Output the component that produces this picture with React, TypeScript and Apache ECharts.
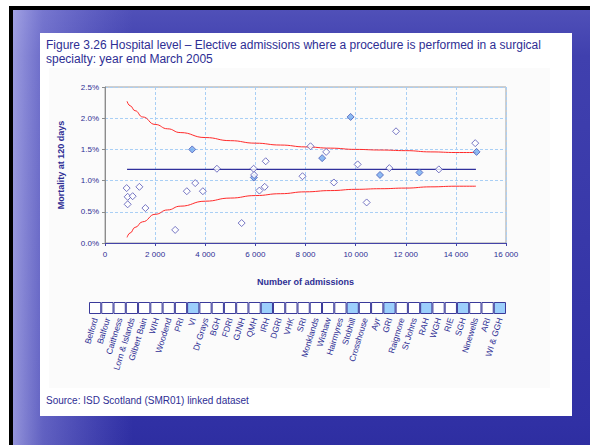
import { useEffect, useRef } from "react";
import * as echarts from "echarts";

// Hospitals, ordered by number of admissions
const hospitals = [
  "Belford", "Balfour", "Caithness", "Lorn & Islands", "Gilbert Bain", "WIH", "Woodend", "PRI",
  "VI", "Dr Grays", "BGH", "FDRI", "GJNH", "QMH", "IRH", "DGRI", "VHK", "SRI", "Monklands",
  "Wishaw", "Hairmyres", "Stobhill", "Crosshouse", "Ayr", "GRI", "Raigmore", "St Johns", "RAH",
  "WGH", "RIE", "SGH", "Ninewells", "ARI", "WI & GGH",
];
const admissions = [
  864, 904, 904, 1104, 1372, 1612, 2800, 3264, 3480, 3600, 3904, 4465, 5452, 5930, 5940, 5950,
  6160, 6372, 6412, 7880, 8200, 8665, 8825, 9132, 9800, 10080, 10440, 10972, 11345, 11612, 12545,
  13320, 14772, 14825,
];
const mortality = [
  0.88, 0.74, 0.62, 0.75, 0.9, 0.56, 0.21, 0.83, 1.5, 0.96, 0.83, 1.19, 0.32, 1.19, 1.05, 1.09,
  0.84, 0.9, 1.31, 1.07, 1.55, 1.36, 1.46, 0.97, 2.02, 1.26, 0.65, 1.09, 1.2, 1.79, 1.13, 1.18,
  1.6, 1.46,
];
const highlighted = [
  0, 0, 0, 0, 0, 0, 0, 0, 1, 0, 0, 0, 0, 0, 1, 0, 0, 0, 0, 0, 0, 1, 0, 0, 1, 0, 0, 1, 0, 0, 1, 0,
  0, 1,
];

// Control limits
const limitAdmissions = [880, 1000, 1200, 1500, 2000, 2500, 3000, 4000, 5000, 6000, 7000, 8000, 9000, 10000, 11000, 12000, 13000, 14000, 14800];
const upperLimit = [2.27, 2.2, 2.12, 2.02, 1.9, 1.83, 1.77, 1.69, 1.64, 1.6, 1.57, 1.54, 1.52, 1.5, 1.49, 1.48, 1.46, 1.45, 1.45];
const lowerLimit = [0.09, 0.16, 0.25, 0.34, 0.46, 0.53, 0.59, 0.67, 0.72, 0.76, 0.79, 0.82, 0.84, 0.86, 0.87, 0.88, 0.9, 0.91, 0.91];
const meanRate = 1.18;
const meanRange = [880, 14800];

const NAVY = "#2e2e94";
const FONT = "'Liberation Sans', Arial, sans-serif";

export default function App() {
  const ref = useRef<HTMLDivElement>(null);
  useEffect(() => {
    if (!ref.current) return;
    const chart = echarts.init(ref.current, null, { renderer: "svg" });
    const dashed = { show: true, lineStyle: { color: "#a9cff5", type: [3, 2] as any, width: 1 } };
    const option: any = {
      animation: false,
      backgroundColor: "transparent",
      textStyle: { fontFamily: FONT },
      graphic: {
        elements: [
          { type: "rect", z: -100, silent: true, shape: { x: 9, y: 6, width: 600, height: 460 }, style: { fill: "#000" } },
          {
            type: "rect", z: -99, silent: true, shape: { x: 13, y: 10, width: 600, height: 460 },
            style: {
              fill: new echarts.graphic.LinearGradient(0, 0, 0, 1, [
                { offset: 0, color: "#5050b8" },
                { offset: 0.1, color: "#4040ae" },
                { offset: 0.9, color: "#3030a4" },
                { offset: 1, color: "#2c2c9e" },
              ]),
            },
          },
          {
            type: "rect", z: -98, silent: true, shape: { x: 13, y: 10, width: 600, height: 460 },
            style: {
              fill: new echarts.graphic.LinearGradient(0, 0, 1, 0, [
                { offset: 0, color: "rgba(215,215,255,0.6)" },
                { offset: 0.05, color: "rgba(190,190,250,0.35)" },
                { offset: 0.2, color: "rgba(160,160,240,0)" },
                { offset: 1, color: "rgba(160,160,240,0)" },
              ]),
            },
          },
          { type: "rect", z: -97, silent: true, shape: { x: 40, y: 33, width: 532, height: 383 }, style: { fill: "#ffffff" } },
          { type: "rect", z: -96, silent: true, shape: { x: 49, y: 68, width: 501, height: 320 }, style: { fill: "#fbfbfb" } },
        ],
      },
      title: [
        {
          text: "Figure 3.26 Hospital level \u2013 Elective admissions where a procedure is performed in a surgical\nspecialty: year end March 2005",
          left: 46, top: 38, padding: 0,
          textStyle: { fontSize: 12, fontWeight: "normal", color: NAVY, lineHeight: 14, fontFamily: FONT },
        },
        {
          text: "Source: ISD Scotland (SMR01) linked dataset",
          left: 46, top: 394, padding: 0,
          textStyle: { fontSize: 10, fontWeight: "normal", color: NAVY, lineHeight: 12, fontFamily: FONT },
        },
      ],
      grid: [
        { left: 105, top: 87, width: 401, height: 156, show: true, borderColor: "#a0a0a0", borderWidth: 1, backgroundColor: "transparent", containLabel: false },
        { left: 89, top: 302, width: 417, height: 12, containLabel: false },
      ],
      xAxis: [
        {
          gridIndex: 0, type: "value", min: 0, max: 16000, interval: 2000,
          axisLine: { show: true, onZero: false, lineStyle: { color: "#4444a8", width: 1 } },
          axisTick: { show: true, length: 3, lineStyle: { color: "#4444a8" } },
          axisLabel: {
            fontSize: 8, color: NAVY, margin: 7, fontFamily: FONT,
            formatter: (v: number) => String(v).replace(/\B(?=(\d{3})+(?!\d))/g, " "),
          },
          splitLine: dashed,
          name: "Number of admissions", nameLocation: "middle", nameGap: 34,
          nameTextStyle: { fontSize: 9, fontWeight: "bold", color: NAVY, fontFamily: FONT },
        },
        {
          gridIndex: 1, type: "category", data: hospitals,
          axisLine: { show: false }, axisTick: { show: false }, splitLine: { show: false },
          axisLabel: { interval: 0, rotate: 73, fontSize: 8.5, color: NAVY, margin: 4, fontFamily: FONT, hideOverlap: false },
        },
      ],
      yAxis: [
        {
          gridIndex: 0, type: "value", min: 0, max: 2.5, interval: 0.5,
          axisLine: { show: true, onZero: false, lineStyle: { color: "#8c8c8c", width: 1 } },
          axisTick: { show: true, length: 3, lineStyle: { color: "#8c8c8c" } },
          axisLabel: { fontSize: 8, color: NAVY, margin: 6, fontFamily: FONT, formatter: (v: number) => v.toFixed(1) + "%" },
          splitLine: dashed,
          name: "Mortality at 120 days", nameLocation: "middle", nameGap: 40, nameRotate: 90,
          nameTextStyle: { fontSize: 9, fontWeight: "bold", color: NAVY, fontFamily: FONT },
        },
        { gridIndex: 1, type: "value", min: 0, max: 1, show: false },
      ],
      series: [
        {
          type: "line", xAxisIndex: 0, yAxisIndex: 0, showSymbol: false, symbol: "none", smooth: true, smoothMonotone: "x",
          data: limitAdmissions.map((a, i) => [a, upperLimit[i]]),
          lineStyle: { color: "#ff2a2a", width: 1 }, z: 3,
        },
        {
          type: "line", xAxisIndex: 0, yAxisIndex: 0, showSymbol: false, symbol: "none", smooth: true, smoothMonotone: "x",
          data: limitAdmissions.map((a, i) => [a, lowerLimit[i]]),
          lineStyle: { color: "#ff2a2a", width: 1 }, z: 3,
        },
        {
          type: "line", xAxisIndex: 0, yAxisIndex: 0, showSymbol: false, symbol: "none",
          data: meanRange.map((a) => [a, meanRate]),
          lineStyle: { color: "#30309c", width: 1.2 }, z: 3,
        },
        {
          type: "scatter", xAxisIndex: 0, yAxisIndex: 0, symbol: "diamond", symbolSize: 7, z: 5,
          data: admissions.map((a, i) => ({
            value: [a, mortality[i]],
            name: hospitals[i],
            itemStyle: highlighted[i]
              ? { color: "#72aaf0", borderColor: "#4a5cb8", borderWidth: 1 }
              : { color: "#ffffff", borderColor: "#5555b5", borderWidth: 1 },
          })),
        },
        {
          type: "bar", xAxisIndex: 1, yAxisIndex: 1, barCategoryGap: "0%", barGap: "0%",
          data: highlighted.map((h) => ({
            value: 1,
            itemStyle: { color: h ? "#9ccffc" : "#ffffff", borderColor: "#3a3a9a", borderWidth: 1 },
          })),
        },
      ],
    };
    chart.setOption(option);
    return () => chart.dispose();
  }, []);
  return (
    <div
      ref={ref}
      style={{ position: "fixed", left: 0, top: 0, width: 590, height: 445, background: "#ffffff" }}
    />
  );
}
